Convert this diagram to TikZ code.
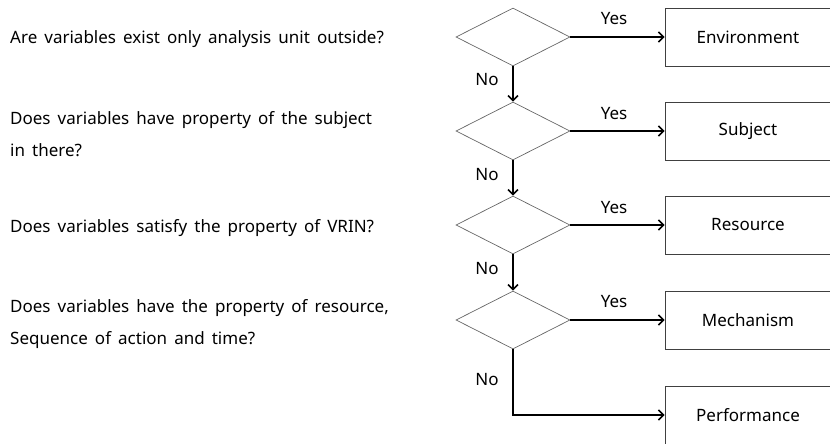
\documentclass[tikz,border=0pt]{standalone}
\usepackage{fontspec}
\setmainfont{Noto Sans}[WordSpace=1.6]
\usetikzlibrary{shapes.geometric,arrows.meta}
\begin{document}
\begin{tikzpicture}[x=1pt,y=-1pt,
  dec/.style={draw=black!60,line width=0.7pt,diamond,aspect=1.97,minimum width=114pt,minimum height=58pt,inner sep=0pt},
  outbox/.style={draw=black!75,line width=0.8pt,rectangle,minimum width=166pt,minimum height=58pt,font=\fontsize{17}{20}\selectfont},
  flow/.style={line width=1.8pt,-{Straight Barb[length=5pt,width=10pt,line width=1.6pt]}},
  lbl/.style={font=\fontsize{17}{20}\selectfont,inner sep=0pt},
  qtext/.style={font=\fontsize{17}{20}\selectfont,anchor=base west,inner sep=0pt}]
\useasboundingbox (0,0) rectangle (830,444);
\node[dec] (d1) at (513,37) {};
\node[dec] (d2) at (513,131) {};
\node[dec] (d3) at (513,225) {};
\node[dec] (d4) at (513,320) {};
\node[outbox] (b1) at (748,37) {Environment};
\node[outbox] (b2) at (748,131) {Subject};
\node[outbox] (b3) at (748,225) {Resource};
\node[outbox] (b4) at (748,320) {Mechanism};
\node[outbox] (b5) at (748,415) {Performance};
\coordinate (corner) at (513,415);
\draw[flow] (d1.east) -- (b1.west);
\draw[flow] (d2.east) -- (b2.west);
\draw[flow] (d3.east) -- (b3.west);
\draw[flow] (d4.east) -- (b4.west);
\draw[flow] (d1.south) -- (d2.north);
\draw[flow] (d2.south) -- (d3.north);
\draw[flow] (d3.south) -- (d4.north);
\draw[flow] (d4.south) -- (corner) -- (b5.west);
\node[lbl] (y1) at (614,19) {Yes};
\node[lbl] (y2) at (614,114) {Yes};
\node[lbl] (y3) at (614,208) {Yes};
\node[lbl] (y4) at (614,302) {Yes};
\node[lbl] (n1) at (487,80) {No};
\node[lbl] (n2) at (487,175) {No};
\node[lbl] (n3) at (487,269) {No};
\node[lbl] (n4) at (487,380) {No};
\node[qtext] (q1) at (10,44) {Are variables exist only analysis unit outside?};
\node[qtext] (q2a) at (10,124) {Does variables have property of the subject};
\node[qtext] (q2b) at (10,156) {in there?};
\node[qtext] (q3) at (10,232) {Does variables satisfy the property of VRIN?};
\node[qtext] (q4a) at (10,312) {Does variables have the property of resource,};
\node[qtext] (q4b) at (10,344) {Sequence of action and time?};
\end{tikzpicture}
\end{document}
